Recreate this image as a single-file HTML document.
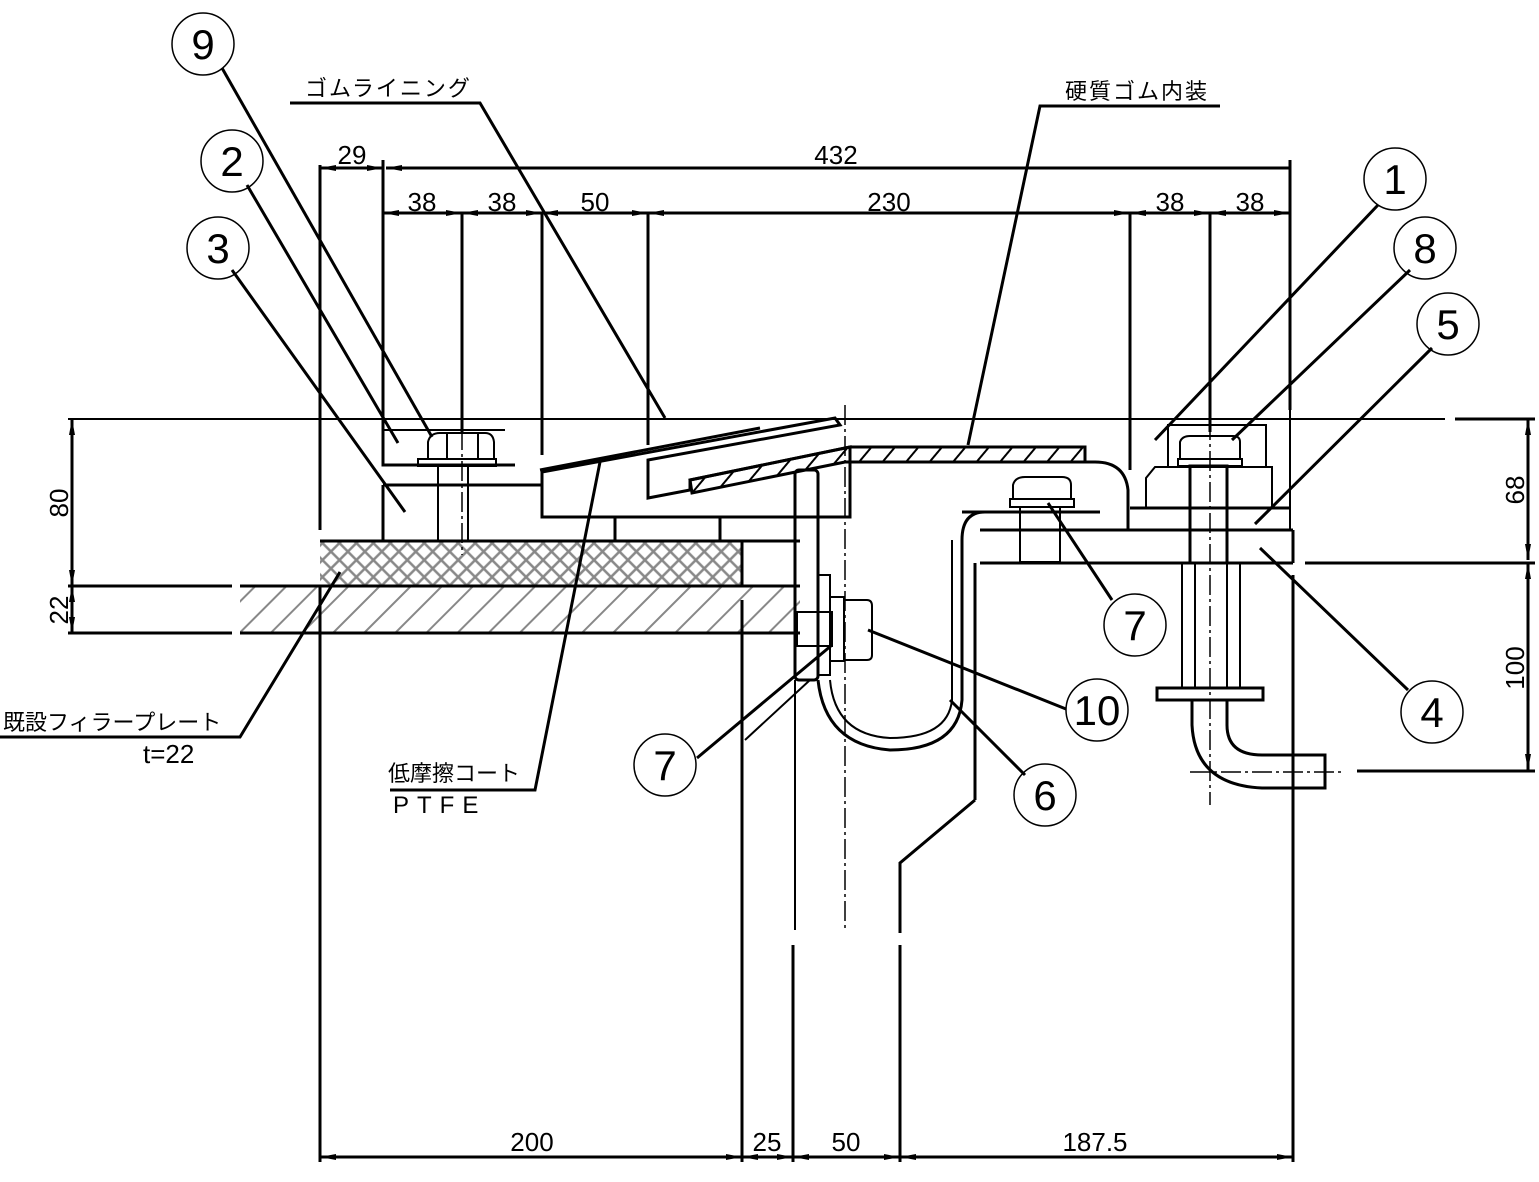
<!DOCTYPE html>
<html><head><meta charset="utf-8"><style>
html,body{margin:0;padding:0;background:#fff;}
svg{display:block;}
text{font-family:"Liberation Sans","Noto Sans CJK JP",sans-serif;fill:#000;}
</style></head><body>
<svg width="1539" height="1182" viewBox="0 0 1539 1182" xmlns="http://www.w3.org/2000/svg">
<defs>
<pattern id="diag" patternUnits="userSpaceOnUse" width="22" height="22" patternTransform="rotate(45)">
<line x1="0" y1="0" x2="0" y2="22" stroke="#888" stroke-width="4"/></pattern>
<pattern id="diagb" patternUnits="userSpaceOnUse" width="18" height="18" patternTransform="rotate(40)">
<line x1="0" y1="0" x2="0" y2="18" stroke="#000" stroke-width="4"/></pattern>
<pattern id="cross" patternUnits="userSpaceOnUse" width="12" height="12" patternTransform="rotate(45)">
<rect width="12" height="12" fill="none" stroke="#888" stroke-width="2.5"/></pattern>
<marker id="ar" viewBox="0 0 16 8" refX="16" refY="4" markerWidth="16" markerHeight="8" orient="auto-start-reverse" markerUnits="userSpaceOnUse"><path d="M0,1 L16,4 L0,7 z" fill="#000"/></marker>
</defs>
<g fill="none" stroke="#000">
<rect x="240" y="586" width="560" height="47" fill="url(#diag)" stroke="none"/>
<rect x="320" y="541" width="422" height="45" fill="url(#cross)" stroke="none"/>
<line x1="240" y1="586" x2="800" y2="586" stroke-width="3"/>
<line x1="240" y1="633" x2="800" y2="633" stroke-width="3"/>
<line x1="320" y1="541" x2="800" y2="541" stroke-width="3"/>
<line x1="68" y1="586" x2="232" y2="586" stroke-width="3"/>
<line x1="68" y1="633" x2="232" y2="633" stroke-width="3"/>
<line x1="68" y1="419" x2="1445" y2="419" stroke-width="2"/>
<line x1="1455" y1="419" x2="1535" y2="419" stroke-width="3"/>
<g stroke-width="3">
<line x1="320" y1="165" x2="320" y2="530"/><line x1="320" y1="600" x2="320" y2="1162"/>
<line x1="383" y1="160" x2="383" y2="420"/>
<line x1="462" y1="212" x2="462" y2="432"/>
<line x1="542" y1="212" x2="542" y2="455"/>
<line x1="648" y1="212" x2="648" y2="445"/>
<line x1="1130" y1="212" x2="1130" y2="470"/>
<line x1="1210" y1="212" x2="1210" y2="432"/>
<line x1="1290" y1="160" x2="1290" y2="410"/>
<line x1="742" y1="600" x2="742" y2="1162"/>
<line x1="793" y1="945" x2="793" y2="1162"/>
<line x1="900" y1="945" x2="900" y2="1162"/>
<line x1="1293" y1="575" x2="1293" y2="1162"/>
</g>
<g stroke-width="3">
<line x1="320" y1="168" x2="383" y2="168" marker-start="url(#ar)" marker-end="url(#ar)"/>
<line x1="386" y1="168" x2="1290" y2="168" marker-start="url(#ar)"/>
<line x1="383" y1="213" x2="462" y2="213" marker-start="url(#ar)" marker-end="url(#ar)"/>
<line x1="462" y1="213" x2="542" y2="213" marker-start="url(#ar)" marker-end="url(#ar)"/>
<line x1="542" y1="213" x2="648" y2="213" marker-start="url(#ar)" marker-end="url(#ar)"/>
<line x1="648" y1="213" x2="1130" y2="213" marker-start="url(#ar)" marker-end="url(#ar)"/>
<line x1="1130" y1="213" x2="1210" y2="213" marker-start="url(#ar)" marker-end="url(#ar)"/>
<line x1="1210" y1="213" x2="1290" y2="213" marker-start="url(#ar)" marker-end="url(#ar)"/>
<line x1="320" y1="1157" x2="742" y2="1157" marker-start="url(#ar)" marker-end="url(#ar)"/>
<line x1="742" y1="1157" x2="793" y2="1157" marker-start="url(#ar)" marker-end="url(#ar)"/>
<line x1="793" y1="1157" x2="900" y2="1157" marker-start="url(#ar)" marker-end="url(#ar)"/>
<line x1="900" y1="1157" x2="1293" y2="1157" marker-start="url(#ar)" marker-end="url(#ar)"/>
<line x1="72" y1="419" x2="72" y2="586" marker-start="url(#ar)" marker-end="url(#ar)"/>
<line x1="72" y1="586" x2="72" y2="633" marker-start="url(#ar)" marker-end="url(#ar)"/>
<line x1="1528" y1="419" x2="1528" y2="560" marker-start="url(#ar)" marker-end="url(#ar)"/>
<line x1="1528" y1="563" x2="1528" y2="770" marker-start="url(#ar)" marker-end="url(#ar)"/>
<line x1="1305" y1="563" x2="1535" y2="563"/>
<line x1="1357" y1="771" x2="1535" y2="771"/>
</g>
<g stroke-width="3">
<polyline points="383,419 383,465 515,465"/>
<line x1="383" y1="430" x2="505" y2="430" stroke-width="2"/>
<polyline points="383,485 383,541"/>
<line x1="383" y1="485" x2="542" y2="485"/>
<rect x="418" y="459" width="78" height="7" stroke-width="2"/>
<path d="M428,459 V442 Q430,433 440,433 H485 Q493,433 494,442 V459" stroke-width="2"/>
<line x1="447" y1="433" x2="447" y2="459" stroke-width="2"/><line x1="478" y1="433" x2="478" y2="459" stroke-width="2"/>
<rect x="438" y="466" width="30" height="75" stroke-width="2"/>
<polygon points="542,472 835,418 840,425 648,460 648,498 690,490 690,480 850,447 850,517 542,517" stroke-width="3"/>
<line x1="540" y1="470" x2="760" y2="428" stroke-width="3"/>
<line x1="615" y1="517" x2="615" y2="541"/><line x1="720" y1="517" x2="720" y2="541"/>
<line x1="742" y1="541" x2="742" y2="586"/>
<line x1="320" y1="586" x2="320" y2="600"/>
</g>
<path d="M690,480 L850,447 H1085 V462 H845 L692,493 Z" fill="url(#diagb)" stroke-width="3"/>
<path d="M845,462 H1095 Q1125,462 1128,490 V530" stroke-width="3"/>
<rect x="795" y="470" width="23" height="210" rx="4" stroke-width="3"/>
<line x1="795" y1="680" x2="795" y2="930" stroke-width="2"/>
<line x1="845" y1="405" x2="845" y2="930" stroke-width="1.5" stroke-dasharray="20,4,3,4"/>
<rect x="818" y="575" width="12" height="100" stroke-width="2"/>
<rect x="797" y="612" width="35" height="34" stroke-width="2"/>
<rect x="830" y="597" width="14" height="64" stroke-width="2"/>
<path d="M844,600 H867 Q872,600 872,606 V655 Q872,660 867,660 H844 Z" stroke-width="2"/>
<line x1="810" y1="680" x2="745" y2="740" stroke-width="2"/>
<path d="M818,680 Q825,745 890,750 Q958,750 962,700 V540 Q962,512 985,512" stroke-width="3"/>
<path d="M830,680 Q835,735 890,738 Q948,738 952,700 V540" stroke-width="2"/>
<g stroke-width="3">
<line x1="962" y1="512" x2="1100" y2="512"/>
<line x1="980" y1="530" x2="1293" y2="530"/>
<line x1="980" y1="563" x2="1293" y2="563"/>
<line x1="1293" y1="530" x2="1293" y2="563"/>
<line x1="975" y1="563" x2="975" y2="800"/>
<polyline points="975,800 900,863 900,933"/>
<line x1="1130" y1="508" x2="1290" y2="508"/>
<rect x="1010" y="499" width="64" height="8" stroke-width="2"/>
<path d="M1013,499 V485 Q1015,477 1025,477 H1062 Q1071,477 1071,485 V499" stroke-width="2"/>
<rect x="1020" y="507" width="40" height="55" stroke-width="2"/>
<rect x="1168" y="425" width="98" height="42" stroke-width="2"/>
<rect x="1178" y="459" width="64" height="7" stroke-width="2"/>
<path d="M1180,459 V442 Q1182,436 1190,436 H1233 Q1240,436 1240,442 V459" stroke-width="2"/>
<path d="M1155,467 H1272 V508 H1146 V478 Z" stroke-width="2"/>
<rect x="1190" y="466" width="37" height="97"/>
<rect x="1182" y="563" width="58" height="125" stroke-width="2"/>
<line x1="1195" y1="563" x2="1195" y2="688" stroke-width="2"/><line x1="1227" y1="563" x2="1227" y2="688" stroke-width="2"/>
<rect x="1157" y="688" width="106" height="12"/>
<path d="M1192,700 V725 Q1195,785 1262,788 H1325 V755 H1262 Q1227,755 1227,725 V700"/>
</g>
<line x1="1210" y1="420" x2="1210" y2="805" stroke-width="1.5" stroke-dasharray="20,4,3,4"/>
<line x1="1190" y1="772" x2="1345" y2="772" stroke-width="1.5" stroke-dasharray="20,4,3,4"/>
<line x1="462" y1="430" x2="462" y2="555" stroke-width="1.5" stroke-dasharray="20,4,3,4"/>
<line x1="1290" y1="410" x2="1290" y2="530" stroke-width="2"/>
<g stroke-width="3">
<line x1="222" y1="68" x2="432" y2="437"/>
<line x1="247" y1="185" x2="398" y2="443"/>
<line x1="232" y1="270" x2="405" y2="512"/>
<line x1="1378" y1="205" x2="1155" y2="440"/>
<line x1="1410" y1="270" x2="1232" y2="440"/>
<line x1="1432" y1="348" x2="1255" y2="524"/>
<line x1="1408" y1="690" x2="1260" y2="548"/>
<line x1="1112" y1="600" x2="1048" y2="503"/>
<line x1="1066" y1="709" x2="868" y2="630"/>
<line x1="1025" y1="775" x2="950" y2="700"/>
<line x1="697" y1="758" x2="832" y2="645"/>
<polyline points="290,103 480,103 665,418"/>
<polyline points="1220,106 1040,106 968,445"/>
<polyline points="390,790 535,790 600,462"/>
<polyline points="0,737 240,737 340,572"/>
</g>
<g stroke-width="1.5">
<circle cx="203" cy="44" r="31"/><circle cx="232" cy="161" r="31"/><circle cx="218" cy="248" r="31"/>
<circle cx="1395" cy="179" r="31"/><circle cx="1425" cy="248" r="31"/><circle cx="1448" cy="324" r="31"/>
<circle cx="1135" cy="625" r="31"/><circle cx="1097" cy="710" r="31"/><circle cx="1045" cy="795" r="31"/>
<circle cx="1432" cy="712" r="31"/><circle cx="665" cy="765" r="31"/>
</g>
</g>
<g font-size="42" text-anchor="middle" fill="#222">
<text x="203" y="59">9</text><text x="232" y="176">2</text><text x="218" y="263">3</text>
<text x="1395" y="194">1</text><text x="1425" y="263">8</text><text x="1448" y="339">5</text>
<text x="1135" y="640">7</text><text x="1097" y="725">10</text><text x="1045" y="810">6</text>
<text x="1432" y="727">4</text><text x="665" y="780">7</text>
</g>
<g font-size="26" text-anchor="middle">
<text x="352" y="164">29</text><text x="836" y="164">432</text>
<text x="422" y="211">38</text><text x="502" y="211">38</text><text x="595" y="211">50</text>
<text x="889" y="211">230</text><text x="1170" y="211">38</text><text x="1250" y="211">38</text>
<text x="532" y="1151">200</text><text x="767" y="1151">25</text><text x="846" y="1151">50</text><text x="1095" y="1151">187.5</text>
<text transform="translate(68,503) rotate(-90)">80</text>
<text transform="translate(68,610) rotate(-90)">22</text>
<text transform="translate(1524,490) rotate(-90)">68</text>
<text transform="translate(1524,668) rotate(-90)">100</text>
</g>
<g font-size="22">
<text x="305" y="96" letter-spacing="2">ゴムライニング</text>
<text x="1065" y="99" letter-spacing="2">硬質ゴム内装</text>
<text x="3" y="730">既設フィラープレート</text>
<text x="143" y="763" font-size="26">t=22</text>
<text x="388" y="781">低摩擦コート</text>
<text x="393" y="813" letter-spacing="8" font-size="24">PTFE</text>
</g>
</svg>
</body></html>
